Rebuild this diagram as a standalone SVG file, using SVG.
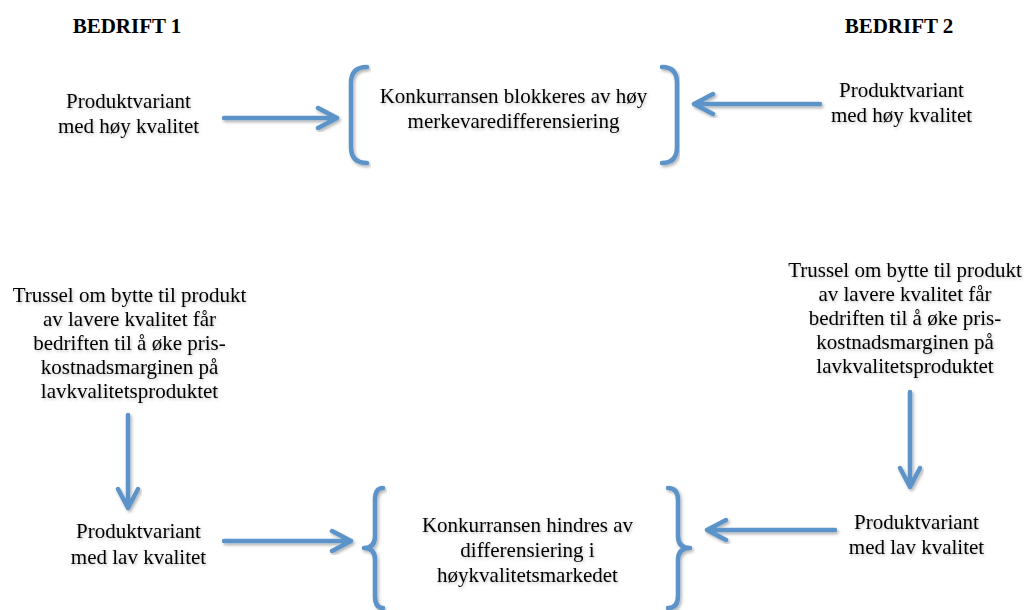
<svg xmlns="http://www.w3.org/2000/svg" width="1027" height="610" viewBox="0 0 1027 610">
<defs>
<filter id="sh" x="-20%" y="-20%" width="140%" height="140%">
<feDropShadow dx="1.5" dy="2" stdDeviation="1.5" flood-color="#000" flood-opacity="0.3"/>
</filter>
<filter id="tsh" x="-10%" y="-20%" width="120%" height="150%">
<feDropShadow dx="1" dy="1.5" stdDeviation="1.5" flood-color="#000" flood-opacity="0.25"/>
</filter>
</defs>
<style>
text{font-family:"Liberation Serif","Times New Roman",serif;font-size:21px;fill:#000;text-anchor:middle}
.t{filter:url(#tsh)}
.h{font-weight:bold}
.c{fill:none;stroke:#5B93C9;stroke-width:4.5;stroke-linecap:round;stroke-linejoin:round;filter:url(#sh)}
</style>
<rect width="1027" height="610" fill="#fff"/>
<g id="title1"><text class="h" x="127" y="33">BEDRIFT 1</text></g>
<g id="title2"><text class="h" x="899" y="33">BEDRIFT 2</text></g>
<g id="n1-high" class="t"><text x="128.5" y="108">Produktvariant</text><text x="128.5" y="133">med høy kvalitet</text></g>
<g id="n2-high" class="t"><text x="901.5" y="97">Produktvariant</text><text x="901.5" y="122">med høy kvalitet</text></g>
<g id="n1-threat" class="t"><text x="129.5" y="302">Trussel om bytte til produkt</text><text x="129.5" y="326">av lavere kvalitet får</text><text x="129.5" y="350">bedriften til å øke pris-</text><text x="129.5" y="374">kostnadsmarginen på</text><text x="129.5" y="398">lavkvalitetsproduktet</text></g>
<g id="n2-threat" class="t"><text x="905" y="277">Trussel om bytte til produkt</text><text x="905" y="301">av lavere kvalitet får</text><text x="905" y="325">bedriften til å øke pris-</text><text x="905" y="349">kostnadsmarginen på</text><text x="905" y="373">lavkvalitetsproduktet</text></g>
<g id="n1-low" class="t"><text x="138.5" y="538">Produktvariant</text><text x="138.5" y="564">med lav kvalitet</text></g>
<g id="n2-low" class="t"><text x="916.5" y="529">Produktvariant</text><text x="916.5" y="554">med lav kvalitet</text></g>
<g id="top-box"><path class="c" d="M367,67 Q351,67 351,83 L351,147 Q351,163 367,163"/><path class="c" d="M662,67 Q677,67 677,83 L677,147 Q677,163 662,163"/><g class="t"><text x="513.5" y="103">Konkurransen blokkeres av høy</text><text x="513.5" y="128">merkevaredifferensiering</text></g></g>
<g id="bottom-box"><path class="c" d="M383,488 Q375,488 375,500 L375,536 Q375,548 364,548 Q375,548 375,560 L375,596 Q375,608 383,608"/><path class="c" d="M668,488 Q678,488 678,500 L678,536 Q678,548 690,548 Q678,548 678,560 L678,596 Q678,608 668,608"/><g class="t"><text x="527.5" y="532">Konkurransen hindres av</text><text x="527.5" y="557">differensiering i</text><text x="527.5" y="582">høykvalitetsmarkedet</text></g></g>
<g id="connectors">
<path class="c" d="M224,118 L337,118 M318,108 L337,118 L318,128"/>
<path class="c" d="M820,104 L694,104 M713,94 L694,104 L713,114"/>
<path class="c" d="M128,153 L128,247"/>
<path class="c" d="M903,137 L903,231"/>
<path class="c" d="M128,415 L128,508 M118,489 L128,508 L138,489"/>
<path class="c" d="M910,392 L910,487 M900,468 L910,487 L920,468"/>
<path class="c" d="M224,541 L351,541 M332,531 L351,541 L332,551"/>
<path class="c" d="M835,530 L707,530 M726,520 L707,530 L726,540"/>
</g>
</svg>
